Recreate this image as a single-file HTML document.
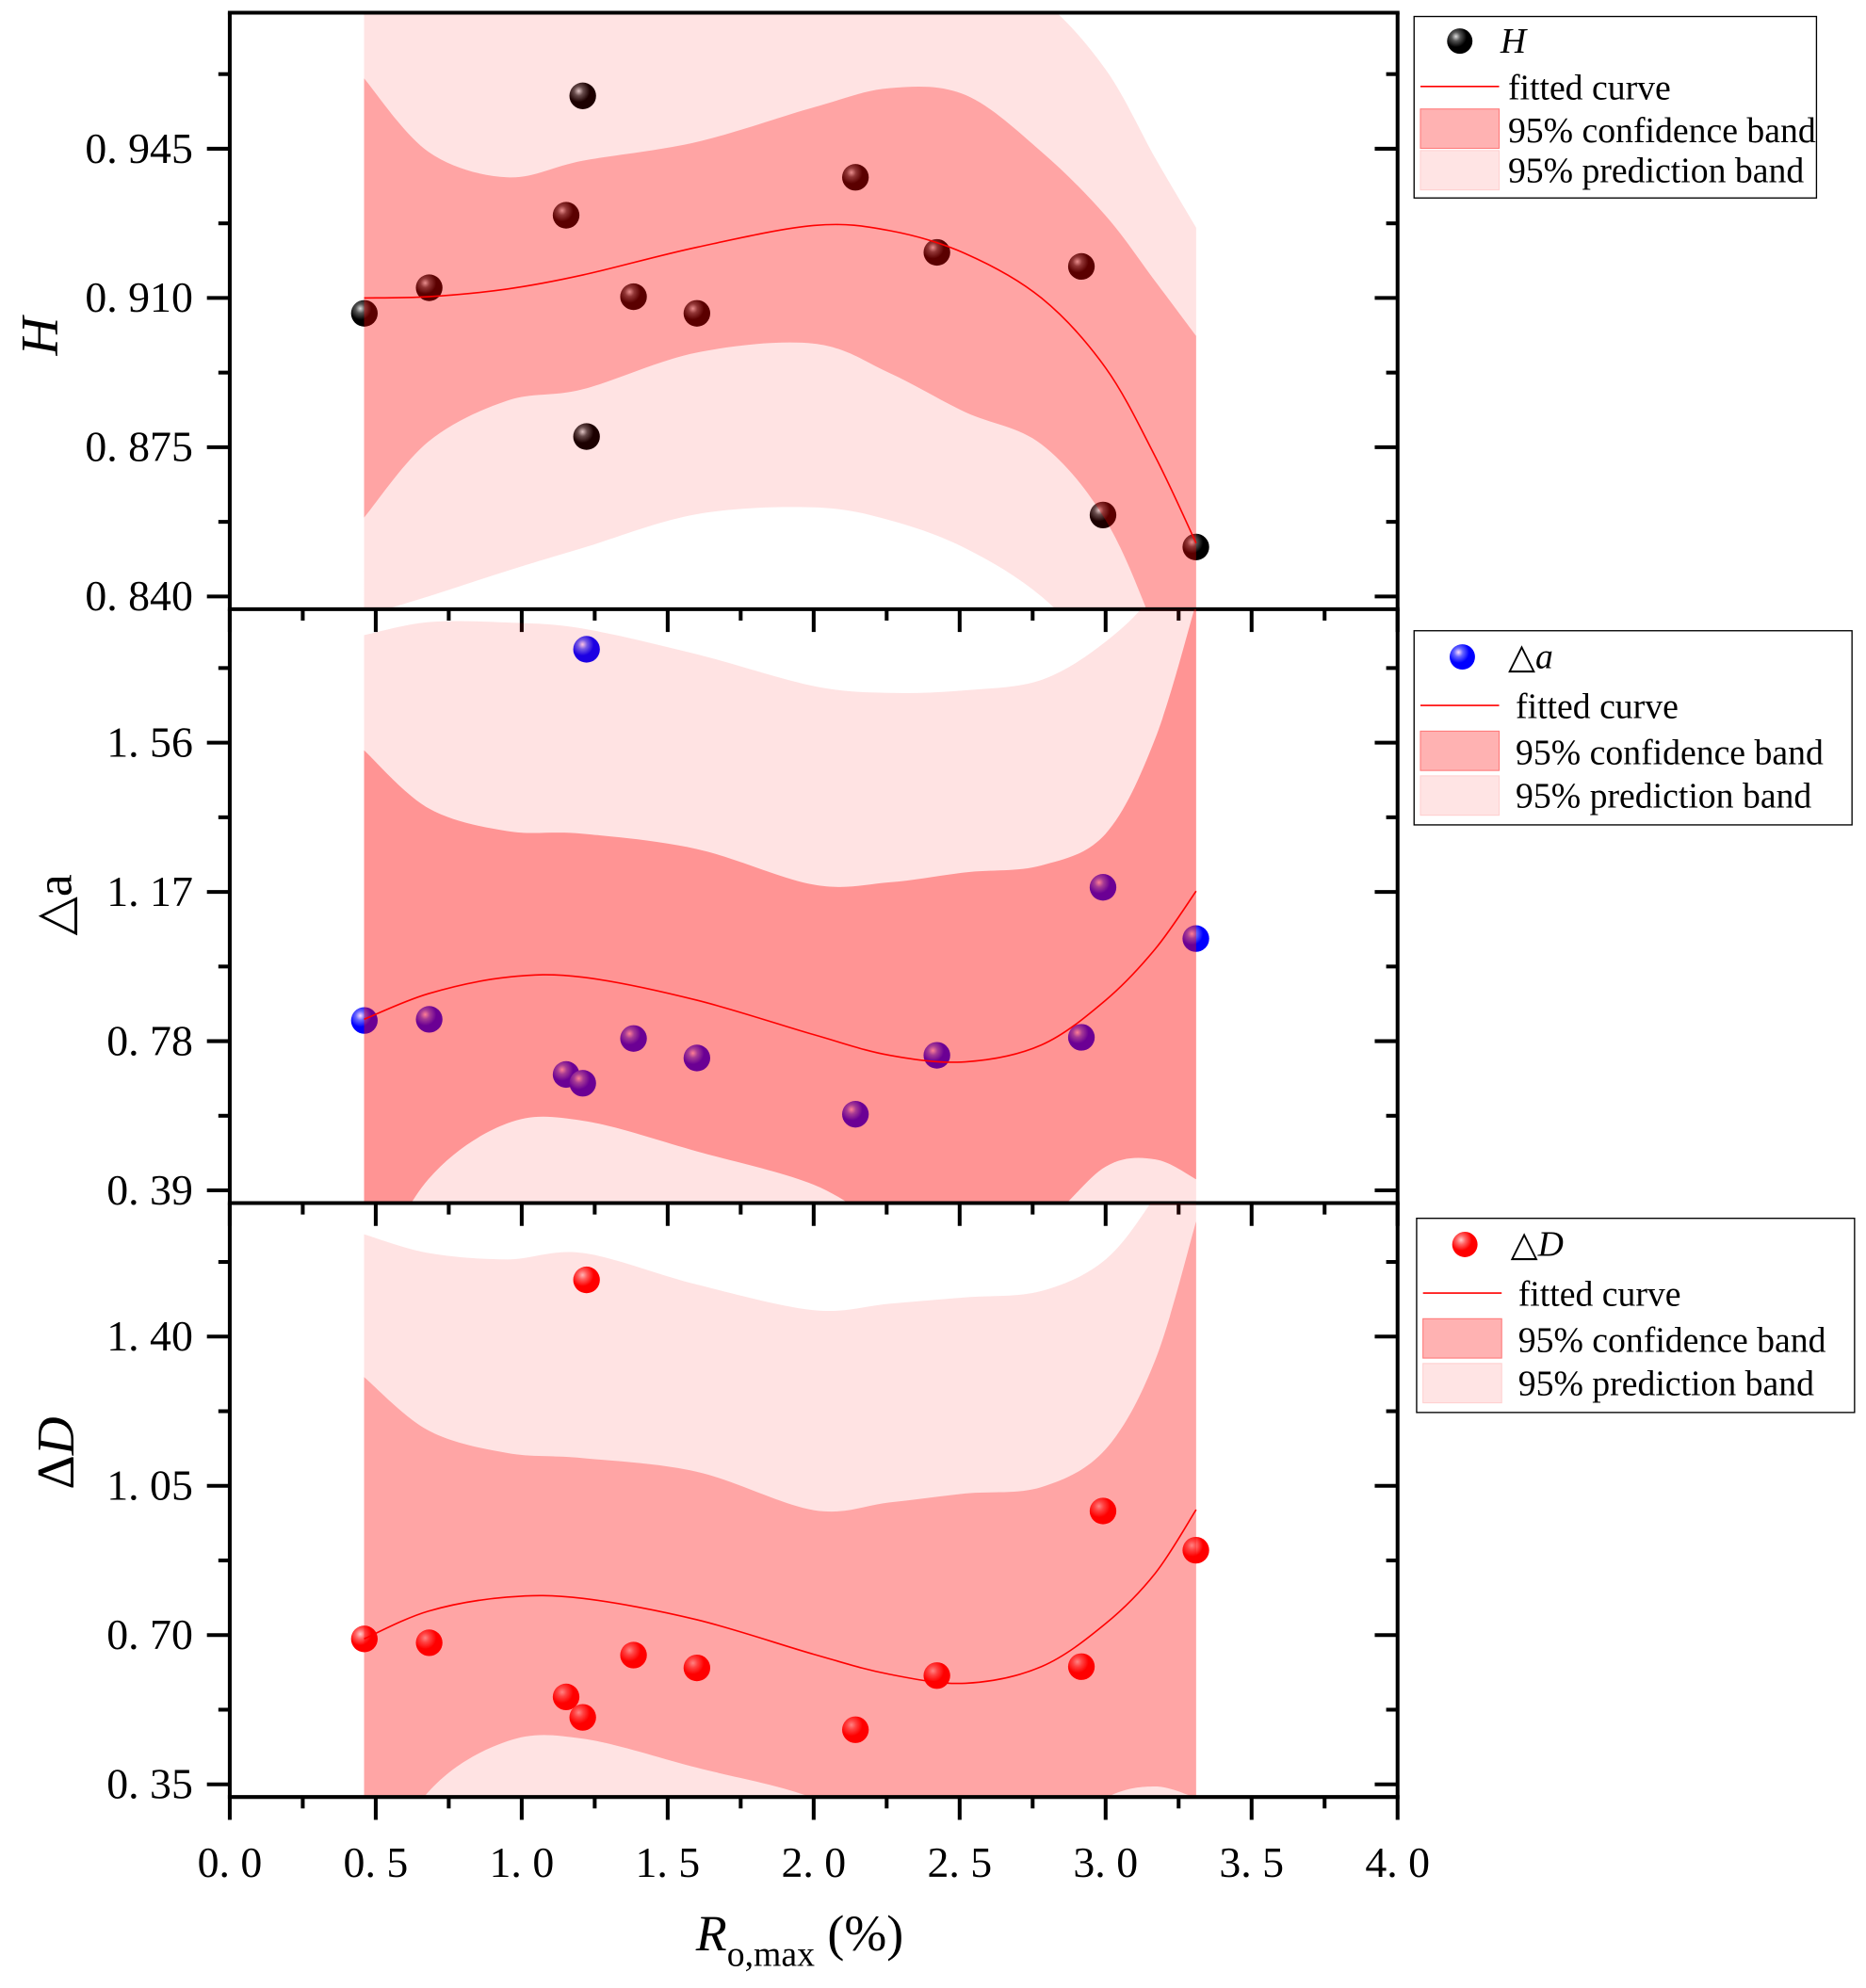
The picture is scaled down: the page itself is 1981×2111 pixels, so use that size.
<!DOCTYPE html>
<html><head><meta charset="utf-8"><style>
html,body{margin:0;padding:0;background:#fff;}
svg{display:block;font-family:"Liberation Serif","DejaVu Serif","Times New Roman",serif;}
svg text{font-family:"Liberation Serif","DejaVu Serif","Times New Roman",serif;fill:#000;}
</style></head>
<body>
<svg id="chart" width="1981" height="2111" viewBox="0 0 1470 1566.5" xmlns="http://www.w3.org/2000/svg">
<defs>
<radialGradient id="gBlack" cx="0.35" cy="0.32" r="0.7"><stop offset="0" stop-color="#ddd"/><stop offset="0.25" stop-color="#555"/><stop offset="0.6" stop-color="#000"/></radialGradient>
<radialGradient id="gBlue" cx="0.35" cy="0.32" r="0.7"><stop offset="0" stop-color="#fdf"/><stop offset="0.25" stop-color="#66f"/><stop offset="0.6" stop-color="#00f"/></radialGradient>
<radialGradient id="gRed" cx="0.35" cy="0.32" r="0.7"><stop offset="0" stop-color="#fcc"/><stop offset="0.25" stop-color="#f66"/><stop offset="0.6" stop-color="#f00"/></radialGradient>
<clipPath id="c1"><rect x="181" y="10" width="920" height="470"/></clipPath>
<clipPath id="c2"><rect x="181" y="480" width="920" height="468"/></clipPath>
<clipPath id="c3"><rect x="181" y="948" width="920" height="468"/></clipPath>
</defs>
<g id="layer"></g>
</svg>
<script>
// ---- data ----
const ptX = [0.461, 0.683, 1.209, 1.152, 1.222, 1.383, 1.600, 2.143, 2.422, 2.917, 2.991, 3.309];
const hVals = [0.9064, 0.9124, 0.9574, 0.9294, 0.8775, 0.9103, 0.9064, 0.9383, 0.9207, 0.9174, 0.8591, 0.8516];
const aX = [0.461, 0.683, 1.152, 1.209, 1.222, 1.383, 1.600, 2.143, 2.422, 2.917, 2.991, 3.309];
const aVals = [0.834, 0.837, 0.693, 0.670, 1.804, 0.787, 0.736, 0.589, 0.743, 0.790, 1.182, 1.048];
const dVals = [0.691, 0.682, 0.555, 0.507, 1.533, 0.653, 0.623, 0.478, 0.605, 0.626, 0.991, 0.899];
const curveX = [0.46, 0.68, 0.95, 1.21, 1.6, 2.0, 2.26, 2.52, 2.78, 3.0, 3.17, 3.31];
const hFit = [0.910, 0.9103, 0.9121, 0.9154, 0.9219, 0.9270, 0.9258, 0.9204, 0.910, 0.8936, 0.8728, 0.8525];
const hConf = [0.0515, 0.0340, 0.0262, 0.0268, 0.0247, 0.0277, 0.0334, 0.0372, 0.0343, 0.0357, 0.0411, 0.0486];
const hPred = [0.0745, 0.0703, 0.0661, 0.0640, 0.0626, 0.0661, 0.0679, 0.0691, 0.0700, 0.0700, 0.0700, 0.0740];
const aFit = [0.837, 0.904, 0.947, 0.947, 0.887, 0.797, 0.743, 0.726, 0.770, 0.887, 1.021, 1.172];
const aConf = [0.703, 0.485, 0.382, 0.375, 0.395, 0.392, 0.452, 0.495, 0.469, 0.435, 0.55, 0.753];
const aPred = [1.004, 0.971, 0.927, 0.911, 0.904, 0.911, 0.947, 0.971, 0.954, 0.937, 0.937, 1.004];
const dFit = [0.691, 0.756, 0.789, 0.786, 0.736, 0.655, 0.608, 0.587, 0.626, 0.727, 0.845, 0.994];
const dConf = [0.614, 0.424, 0.338, 0.329, 0.347, 0.338, 0.403, 0.445, 0.421, 0.409, 0.50, 0.676];
const dPred = [0.949, 0.840, 0.792, 0.810, 0.786, 0.807, 0.869, 0.905, 0.881, 0.854, 0.884, 0.890];
const xTicks = ['0. 0','0. 5','1. 0','1. 5','2. 0','2. 5','3. 0','3. 5','4. 0'];
const hTicks = [0.840, 0.875, 0.910, 0.945];
const hTickLabels = ['0. 840','0. 875','0. 910','0. 945'];
const aTicks = [0.39, 0.78, 1.17, 1.56];
const aTickLabels = ['0. 39','0. 78','1. 17','1. 56'];
const dTicks = [0.35, 0.70, 1.05, 1.40];
const dTickLabels = ['0. 35','0. 70','1. 05','1. 40'];

const NS = 'http://www.w3.org/2000/svg';
const root = document.getElementById('layer');
function mk(tag, attrs, parent){const e=document.createElementNS(NS,tag);for(const k in attrs)e.setAttribute(k,attrs[k]);(parent||root).appendChild(e);return e;}
const X0=181, X1=1101;
const xs = v => X0 + v*(X1-X0)/4;
function yScale(top, bottom, v0, v3){
  const yb = bottom-10, yt = yb - 3*117.6;
  return v => yb - (v-v0)/(v3-v0)*(yb-yt);
}
function smooth(pts){
  let d='';
  for(let i=0;i<pts.length;i++){
    const p=pts[i];
    if(i===0){d+='M'+p[0]+','+p[1];continue;}
    const p0=pts[Math.max(i-2,0)], p1=pts[i-1], p2=p, p3=pts[Math.min(i+1,pts.length-1)];
    const c1=[p1[0]+(p2[0]-p0[0])/6, p1[1]+(p2[1]-p0[1])/6];
    const c2=[p2[0]-(p3[0]-p1[0])/6, p2[1]-(p3[1]-p1[1])/6];
    d+='C'+c1[0]+','+c1[1]+' '+c2[0]+','+c2[1]+' '+p2[0]+','+p2[1];
  }
  return d;
}
function band(ys, fit, half, name, color, clip){
  const up = curveX.map((x,i)=>[xs(x), ys(fit[i]+half[i])]);
  const lo = curveX.map((x,i)=>[xs(x), ys(fit[i]-half[i])]).reverse();
  const d = smooth(up) + smooth(lo).replace('M','L') + 'Z';
  const p = mk('path',{d:d, fill:color, 'clip-path':'url(#'+clip+')'});
  
  
}
function panel(cfg){
  const ys = yScale(cfg.top, cfg.bottom, cfg.ticks[0], cfg.ticks[3]);
  cfg.px.forEach((x,i)=>{
    const c = mk('circle',{cx:xs(x), cy:ys(cfg.vals[i]), r:10.5, fill:cfg.grad, 'clip-path':'url(#'+cfg.clip+')'});
    
    
  });
  band(ys, cfg.fit, cfg.pred, cfg.id+'-prediction-band', 'rgba(255,0,0,0.11)', cfg.clip);
  band(ys, cfg.fit, cfg.conf, cfg.id+'-confidence-band', cfg.confColor, cfg.clip);
  const fl = mk('path',{d:smooth(curveX.map((x,i)=>[xs(x), ys(cfg.fit[i])])), fill:'none', stroke:'#f00', 'stroke-width':1.2});
  
  
  const ax = mk('g',{});
  
  
  mk('line',{x1:X0,y1:cfg.top,x2:X0,y2:cfg.bottom,stroke:'#000','stroke-width':3},ax);
  mk('line',{x1:X1,y1:cfg.top,x2:X1,y2:cfg.bottom,stroke:'#000','stroke-width':3},ax);
  mk('line',{x1:X0-1.5,y1:cfg.bottom,x2:X1+1.5,y2:cfg.bottom,stroke:'#000','stroke-width':3},ax);
  if(cfg.drawTop) mk('line',{x1:X0-1.5,y1:cfg.top,x2:X1+1.5,y2:cfg.top,stroke:'#000','stroke-width':3},ax);
  const step=(cfg.ticks[1]-cfg.ticks[0]);
  for(let k=0;k<=7;k++){
    const v=cfg.ticks[0]+k*step/2; const y=ys(v);
    if(y<cfg.top+2) continue;
    const major=k%2===0;
    mk('line',{x1:X0-(major?18:9),y1:y,x2:X0,y2:y,stroke:'#000','stroke-width':3},ax);
    mk('line',{x1:X1-(major?18:9),y1:y,x2:X1,y2:y,stroke:'#000','stroke-width':3},ax);
  }
  cfg.ticks.forEach((v,i)=>{
    const t=mk('text',{x:152,y:ys(v)+11,'text-anchor':'end','font-size':34,'font-family':'Liberation Serif, DejaVu Serif, serif'},ax);
    t.textContent=cfg.tickLabels[i];
    
    
  });
  for(let k=0;k<=16;k++){
    const x=X0+k*(X1-X0)/16; const major=k%2===0;
    mk('line',{x1:x,y1:cfg.bottom,x2:x,y2:cfg.bottom+(major?18:9),stroke:'#000','stroke-width':3},ax);
  }
  return ys;
}
panel({id:'h', top:10, bottom:480, ticks:hTicks, tickLabels:hTickLabels, px:ptX, vals:hVals, grad:'url(#gBlack)', fit:hFit, conf:hConf, pred:hPred, confColor:'rgba(255,0,0,0.28)', clip:'c1', drawTop:true});
panel({id:'delta-a', top:480, bottom:948, ticks:aTicks, tickLabels:aTickLabels, px:aX, vals:aVals, grad:'url(#gBlue)', fit:aFit, conf:aConf, pred:aPred, confColor:'rgba(255,0,0,0.35)', clip:'c2'});
panel({id:'delta-d', top:948, bottom:1416, ticks:dTicks, tickLabels:dTickLabels, px:aX, vals:dVals, grad:'url(#gRed)', fit:dFit, conf:dConf, pred:dPred, confColor:'rgba(255,0,0,0.27)', clip:'c3'});
xTicks.forEach((l,i)=>{
  const t=mk('text',{x:xs(i*0.5),y:1479,'text-anchor':'middle','font-size':34,'font-family':'Liberation Serif, DejaVu Serif, serif'});
  t.textContent=l;
  
  
});
</script>
<script>
(function(){
const NS='http://www.w3.org/2000/svg';
const svg=document.getElementById('chart');
function add(html){const g=document.createElementNS(NS,'g');g.setAttribute('font-family','Liberation Serif, DejaVu Serif, serif');g.innerHTML=html;svg.appendChild(g);return g;}
add(`<text x="630" y="1537" text-anchor="middle" font-size="40"><tspan font-style="italic">R</tspan><tspan font-size="28" dy="12">o,max</tspan><tspan dy="-12"> (%)</tspan></text>
<text transform="translate(45,265) rotate(-90)" text-anchor="middle" font-size="42" font-style="italic">H</text>
<text transform="translate(56,713) rotate(-90)" text-anchor="middle" font-size="40">△a</text>
<text transform="translate(58,1145) rotate(-90)" text-anchor="middle" font-size="42">Δ<tspan font-style="italic">D</tspan></text>`);
function legend(id,x,y,w,h,mx,grad,labelHtml,tx){
  const rows=(h-20)/4;
  return `<g>
  <rect x="${x}" y="${y}" width="${w}" height="${h}" fill="#fff" stroke="#000" stroke-width="1"/>
  <circle cx="${mx}" cy="${y+rows*0.5+4}" r="10" fill="${grad}"/>
  <text x="${tx-6}" y="${y+rows*0.5+13}" font-size="28">${labelHtml}</text>
  <line x1="${x+5}" y1="${y+rows*1.5+9}" x2="${x+67}" y2="${y+rows*1.5+9}" stroke="#f00" stroke-width="1.2"/>
  <text x="${tx}" y="${y+rows*1.5+19}" font-size="28">fitted curve</text>
  <rect x="${x+5}" y="${y+rows*2.5-4}" width="62" height="31" fill="#ffb2b2" stroke="#ff7a7a" stroke-width="0.8"/>
  <text x="${tx}" y="${y+rows*2.5+22}" font-size="28">95% confidence band</text>
  <rect x="${x+5}" y="${y+rows*3.5-2}" width="62" height="31" fill="#ffe4e4" stroke="#ffd0d0" stroke-width="0.8"/>
  <text x="${tx}" y="${y+rows*3.5+23}" font-size="28">95% prediction band</text></g>`;
}
add(legend('legend-h',1114,13,317,143,1150,'url(#gBlack)','<tspan font-style="italic">H</tspan>',1188));
add(legend('legend-delta-a',1114,497,345,153,1152,'url(#gBlue)','△<tspan font-style="italic">a</tspan>',1194));
add(legend('legend-delta-d',1116,960,345,153,1154,'url(#gRed)','△<tspan font-style="italic">D</tspan>',1196));
})();
</script>
</body></html>
